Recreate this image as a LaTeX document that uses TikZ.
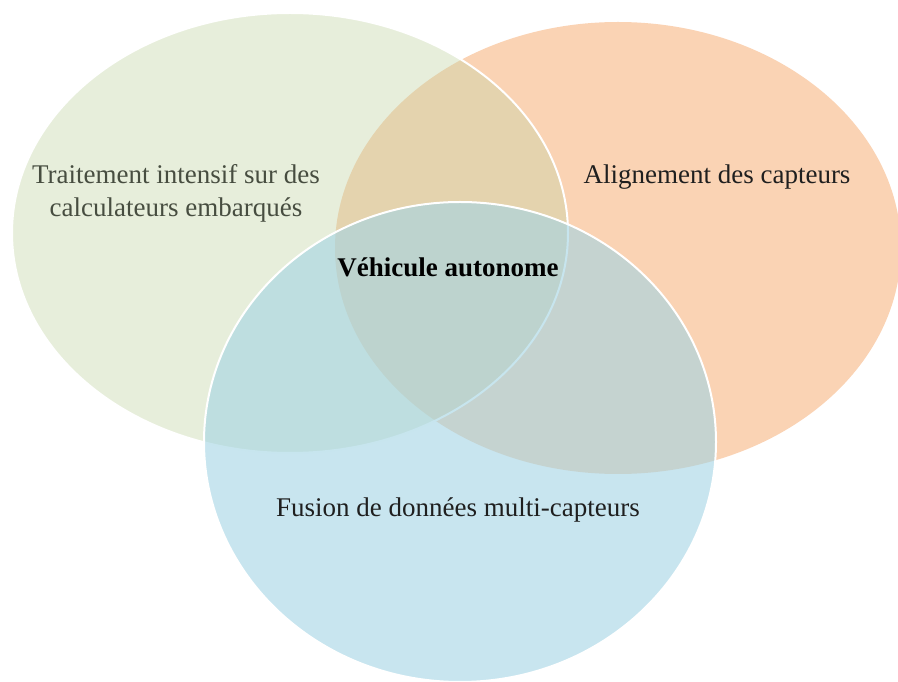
\documentclass[tikz,border=0pt]{standalone}
\usepackage{fontspec}
\setmainfont{Liberation Serif}
\usetikzlibrary{positioning}
\definecolor{setgreen}{HTML}{C3D4A5}
\definecolor{setorange}{HTML}{FAD3B4}
\definecolor{setblue}{HTML}{A3D4E4}
\definecolor{greytext}{HTML}{474D40}
\tikzset{
		venn set/.style    = {draw=white, line width=2pt},
		green set/.style   = {venn set, fill=setgreen, fill opacity=0.4},
		orange set/.style  = {fill=setorange},
		blue set/.style    = {venn set, fill=setblue, fill opacity=0.6},
		venn text/.style   = {inner sep=0pt, align=center, text=black!88,
			font=\fontsize{27}{33}\selectfont},
		venn core/.style   = {venn text, text=black, font=\fontsize{27}{33}\selectfont\bfseries}
	}

\begin{document}
\begin{tikzpicture}[x=1pt, y=1pt]
		\useasboundingbox (0,0) rectangle (898,681);
		% the three sets, orange below, blue on top
		\coordinate (orange) at (618,433);
		\coordinate (green) at (290,448);
		\coordinate (blue) at (460,239);
		\path[orange set] (orange) ellipse [x radius=283, y radius=226];
		\path[green set] (green) ellipse [x radius=278, y radius=220];
		\path[blue set] (blue) ellipse [x radius=256, y radius=240];
		% texts
		\node[venn text, text=greytext] (calcul) at (176,488) {Traitement intensif sur des\\calculateurs embarqués};
		\node[venn text] (align) at (717,504) {Alignement des capteurs};
		\node[venn text] (fusion) at (458,171) {Fusion de données multi-capteurs};
		\node[venn core] (auto) at (448,414) {Véhicule autonome};
	\end{tikzpicture}
\end{document}
